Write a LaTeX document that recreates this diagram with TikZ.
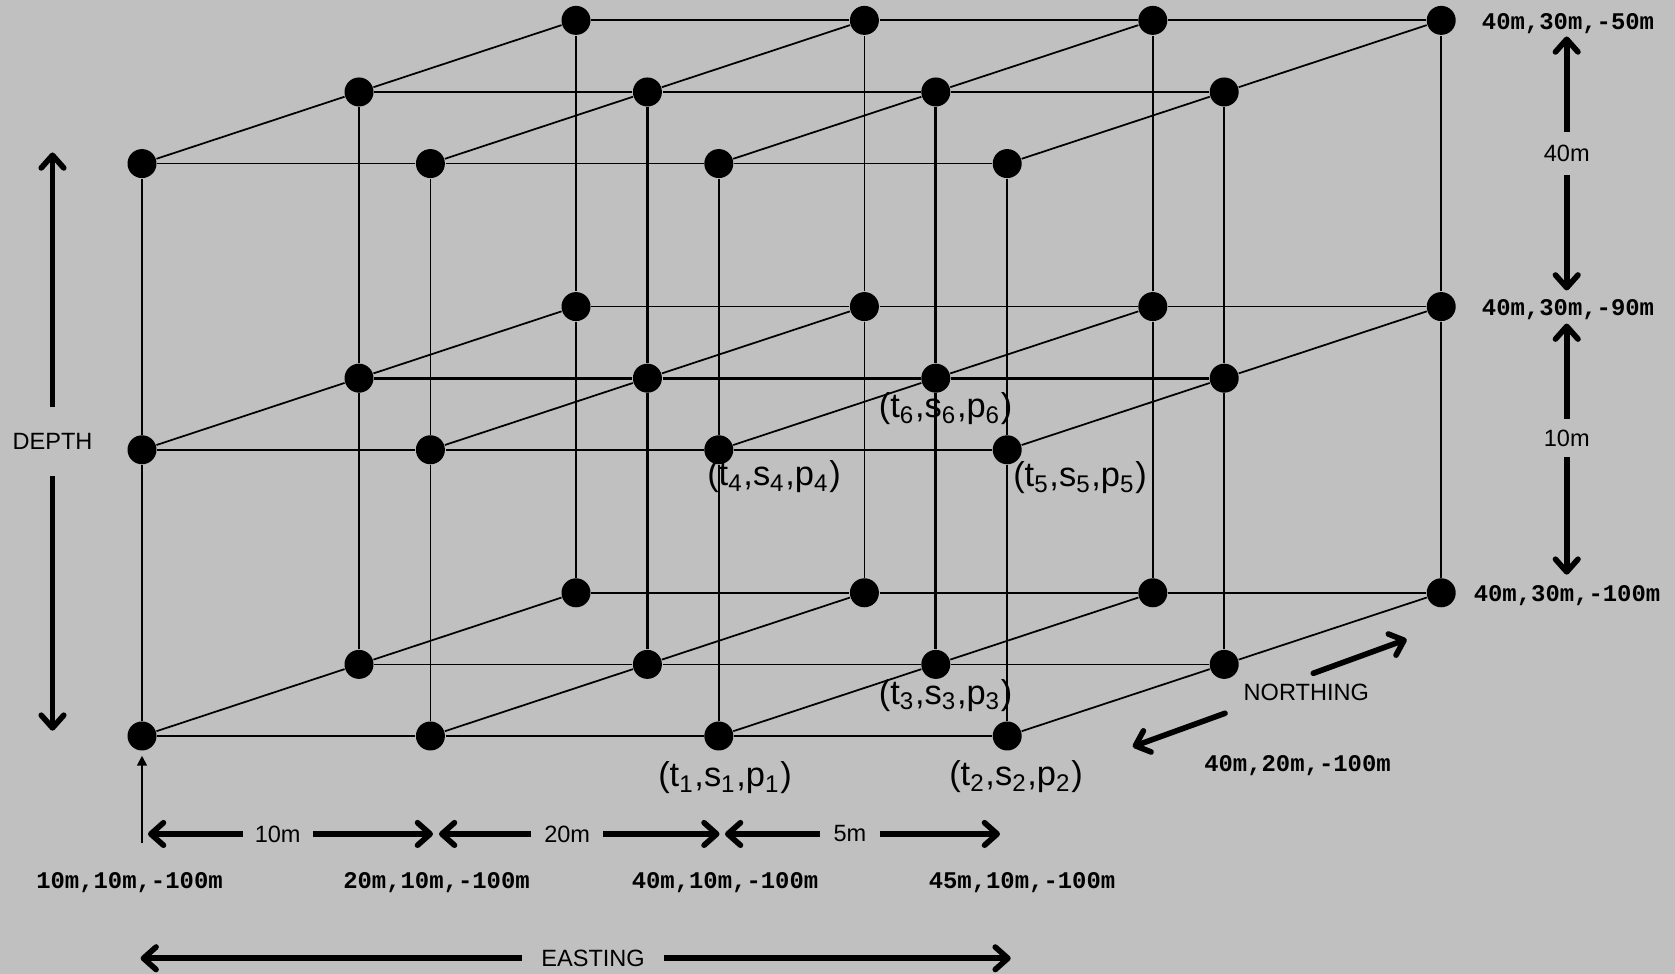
\documentclass[tikz,border=0pt]{standalone}
\usepackage{fontspec}
\setmainfont{Liberation Sans}
\setmonofont{Liberation Mono}
\usetikzlibrary{arrows.meta}
\definecolor{bggray}{RGB}{192,192,192}
\newcommand{\tspl}[1]{(t\textsubscript{#1},s\textsubscript{#1},p\textsubscript{#1})}
\tikzset{
  gridnode/.style={circle,fill=black,minimum size=0.29cm,inner sep=0pt},
  gridline/.style={line width=0.5pt},
  gridbold/.style={line width=0.8pt},
  dimline/.style={line width=1.6pt,line cap=round},
  gaplbl/.style={fill=bggray,inner sep=0.12cm},
  coordlbl/.style={font=\ttfamily\bfseries\fontsize{6.8}{8}\selectfont,inner sep=0pt},
  tsplbl/.style={font=\fontsize{9.8}{11}\selectfont,inner sep=0pt}
}
\begin{document}
\begin{tikzpicture}[>={Straight Barb[length=3.6pt,width=6.4pt,round]},font=\fontsize{6.7}{8}\selectfont]
\path[use as bounding box,fill=bggray] (0,0) rectangle (16.75,9.74);
\foreach \k in {1,2,3}
  \foreach \j in {1,2,3}
    \foreach \i in {1,...,4}
      \node[gridnode] (n-\i-\j-\k) at ({1.42+2.884*(\i-1)+2.17*(\k-1)},{2.38+2.862*(\j-1)+0.716*(\k-1)}) {};
\foreach \k in {1,2,3}{
  \foreach \i in {1,...,4}
    \draw[gridline] (n-\i-1-\k) -- (n-\i-2-\k) -- (n-\i-3-\k);
  \foreach \j in {1,2,3}
    \draw[gridline] (n-1-\j-\k) -- (n-2-\j-\k) -- (n-3-\j-\k) -- (n-4-\j-\k);
}
\foreach \i in {1,...,4}
  \foreach \j in {1,2,3}
    \draw[gridline] (n-\i-\j-1) -- (n-\i-\j-2) -- (n-\i-\j-3);
\draw[gridbold] (n-1-2-2) -- (n-2-2-2) -- (n-3-2-2) -- (n-4-2-2);
\draw[gridbold] (n-2-1-2) -- (n-2-2-2) -- (n-2-3-2);
\draw[gridbold] (n-3-1-2) -- (n-3-2-2) -- (n-3-3-2);
\node[tsplbl] (lab-t1) at (7.25,1.96) {\tspl{1}};
\node[tsplbl] (lab-t2) at (10.16,1.97) {\tspl{2}};
\node[tsplbl] (lab-t3) at (9.456,2.785) {\tspl{3}};
\node[tsplbl] (lab-t4) at (7.74,4.97) {\tspl{4}};
\node[tsplbl] (lab-t5) at (10.80,4.96) {\tspl{5}};
\node[tsplbl] (lab-t6) at (9.456,5.65) {\tspl{6}};
\node[coordlbl] (lbl-b1) at (1.295,0.915) {10m,10m,-100m};
\node[coordlbl] (lbl-b2) at (4.365,0.915) {20m,10m,-100m};
\node[coordlbl] (lbl-b3) at (7.25,0.915) {40m,10m,-100m};
\node[coordlbl] (lbl-b4) at (10.22,0.915) {45m,10m,-100m};
\node[coordlbl] (lbl-r1) at (15.68,9.505) {40m,30m,-50m};
\node[coordlbl] (lbl-r2) at (15.68,6.645) {40m,30m,-90m};
\node[coordlbl] (lbl-r3) at (15.67,3.785) {40m,30m,-100m};
\node[coordlbl] (lbl-n) at (12.975,2.087) {40m,20m,-100m};
\coordinate (upfoot) at (1.42,1.307);
\draw[line width=0.5pt,-{Triangle[length=2.8pt,width=2.8pt]},shorten >=1.3pt] (upfoot) -- (n-1-1-1);
\coordinate (d10l) at (1.48,1.40);
\coordinate (d10r) at (4.33,1.40);
\coordinate (d20l) at (4.39,1.40);
\coordinate (d20r) at (7.195,1.40);
\coordinate (d5l) at (7.25,1.40);
\coordinate (d5r) at (10.00,1.40);
\draw[dimline,<->] (d10l) -- node[gaplbl,pos=.455] (lab-10) {10m} (d10r);
\draw[dimline,<->] (d20l) -- node[gaplbl,pos=.457,inner xsep=0.13cm] (lab-20) {20m} (d20r);
\draw[dimline,<->] (d5l) -- node[gaplbl,pos=.454,inner xsep=0.14cm] (lab-5) {5m} (d5r);
\coordinate (eastl) at (1.406,0.157);
\coordinate (eastr) at (10.107,0.157);
\draw[dimline,<->] (eastl) -- node[gaplbl,pos=.52,inner xsep=0.19cm] (lab-east) {EASTING} (eastr);
\coordinate (deptht) at (0.525,8.215);
\coordinate (depthb) at (0.525,2.433);
\draw[dimline,<->] (deptht) -- node[gaplbl,pos=.5,inner ysep=0.26cm] (lab-depth) {DEPTH} (depthb);
\coordinate (r40t) at (15.667,9.375);
\coordinate (r40b) at (15.667,6.835);
\draw[dimline,<->] (r40t) -- node[gaplbl,pos=.462,inner ysep=0.13cm] (lab-r40) {40m} (r40b);
\coordinate (r10t) at (15.667,6.504);
\coordinate (r10b) at (15.667,3.993);
\draw[dimline,<->] (r10t) -- node[gaplbl,pos=.456,inner ysep=0.11cm] (lab-r10) {10m} (r10b);
\node (lab-north) at (13.063,2.82) {NORTHING};
\coordinate (nne1) at (13.133,3.007);
\coordinate (nne2) at (14.067,3.347);
\coordinate (nsw1) at (12.25,2.607);
\coordinate (nsw2) at (11.327,2.273);
\draw[dimline,->] (nne1) -- (nne2);
\draw[dimline,->] (nsw1) -- (nsw2);
\end{tikzpicture}
\end{document}
